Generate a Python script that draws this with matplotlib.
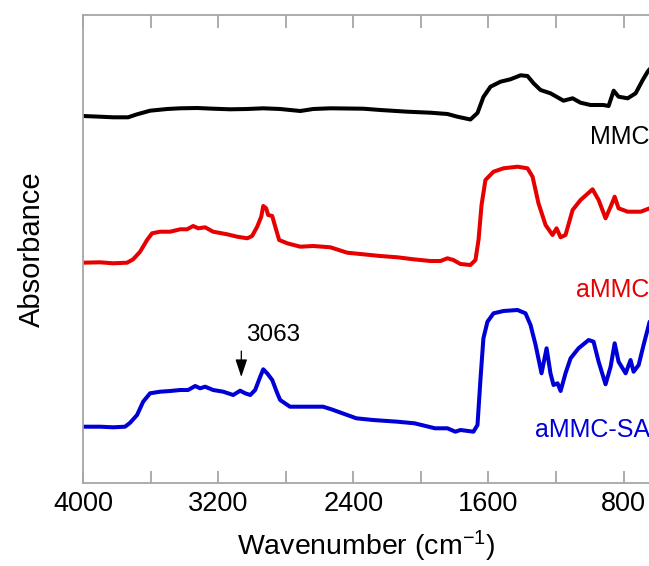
import matplotlib
matplotlib.use("Agg")
import matplotlib.pyplot as plt
from matplotlib.ticker import MultipleLocator, FuncFormatter

plt.rcParams['font.family'] = ['Liberation Sans', 'DejaVu Sans']
plt.rcParams['mathtext.fontset'] = 'custom'
plt.rcParams['mathtext.rm'] = 'Liberation Sans'
plt.rcParams['mathtext.default'] = 'regular'

# ---- data (wavenumber in cm-1, absorbance in arbitrary offset units) ----
mmc_wn = [4000, 3899, 3822, 3733, 3680, 3603, 3502, 3425, 3324, 3230, 3129, 3028,
          2933, 2833, 2714, 2637, 2536, 2341, 2240, 2080, 1944, 1843, 1784, 1707,
          1665, 1630, 1588, 1529, 1470, 1410, 1369, 1333, 1292, 1233, 1156, 1102,
          1055, 996, 919, 889, 859, 830, 776, 729, 687, 658, 640]
mmc_abs = [3.67, 3.663, 3.657, 3.657, 3.687, 3.723, 3.74, 3.747, 3.75, 3.743, 3.737, 3.74,
           3.747, 3.74, 3.72, 3.74, 3.747, 3.743, 3.73, 3.713, 3.703, 3.69, 3.663, 3.635,
           3.70, 3.86, 3.963, 4.013, 4.037, 4.077, 4.07, 3.997, 3.93, 3.897, 3.823, 3.847,
           3.803, 3.78, 3.78, 3.77, 3.923, 3.863, 3.847, 3.897, 4.03, 4.113, 4.15]

ammc_wn = [4000, 3899, 3822, 3739, 3703, 3662, 3621, 3591, 3544, 3484, 3425, 3384,
           3348, 3318, 3277, 3230, 3147, 3087, 3028, 2999, 2969, 2945, 2933, 2916,
           2904, 2880, 2862, 2839, 2791, 2714, 2637, 2536, 2436, 2341, 2240, 2139,
           2044, 1944, 1884, 1843, 1808, 1766, 1707, 1677, 1659, 1641, 1618, 1570,
           1511, 1428, 1369, 1339, 1304, 1262, 1221, 1197, 1173, 1144, 1102, 1055,
           984, 948, 907, 877, 853, 830, 776, 699, 646]
ammc_abs = [2.203, 2.207, 2.197, 2.203, 2.237, 2.313, 2.43, 2.497, 2.513, 2.513, 2.537, 2.537,
            2.57, 2.547, 2.557, 2.513, 2.487, 2.463, 2.447, 2.47, 2.563, 2.663, 2.77, 2.747,
            2.68, 2.67, 2.563, 2.43, 2.397, 2.363, 2.37, 2.357, 2.303, 2.287, 2.27, 2.257,
            2.237, 2.22, 2.22, 2.247, 2.23, 2.19, 2.18, 2.23, 2.43, 2.78, 3.03, 3.113,
            3.147, 3.163, 3.147, 3.063, 2.797, 2.58, 2.48, 2.547, 2.457, 2.48, 2.73, 2.83,
            2.937, 2.83, 2.647, 2.763, 2.863, 2.747, 2.713, 2.713, 2.747]

ammcsa_wn = [4000, 3899, 3822, 3751, 3721, 3680, 3644, 3603, 3544, 3484, 3425, 3378,
             3336, 3307, 3277, 3230, 3170, 3111, 3070, 3040, 3010, 2981, 2951, 2933,
             2910, 2880, 2850, 2833, 2775, 2579, 2530, 2382, 2284, 2139, 2038, 1916,
             1843, 1796, 1766, 1689, 1665, 1647, 1630, 1606, 1570, 1511, 1428, 1381,
             1351, 1321, 1286, 1256, 1233, 1215, 1191, 1173, 1144, 1114, 1067, 1007,
             978, 948, 907, 877, 853, 830, 788, 759, 741, 711, 682, 646]
ammcsa_abs = [0.563, 0.563, 0.557, 0.563, 0.603, 0.68, 0.813, 0.897, 0.913, 0.92, 0.93, 0.93,
              0.97, 0.947, 0.963, 0.93, 0.913, 0.88, 0.923, 0.897, 0.88, 0.93, 1.063, 1.137,
              1.097, 1.03, 0.897, 0.83, 0.763, 0.763, 0.737, 0.647, 0.63, 0.613, 0.597, 0.547,
              0.547, 0.513, 0.53, 0.513, 0.58, 1.047, 1.447, 1.613, 1.697, 1.72, 1.73, 1.697,
              1.58, 1.38, 1.097, 1.347, 1.097, 0.98, 0.997, 0.92, 1.097, 1.247, 1.347, 1.43,
              1.413, 1.213, 0.987, 1.163, 1.397, 1.213, 1.097, 1.23, 1.113, 1.18, 1.38, 1.613]

series_names = ['MMC', 'aMMC', 'aMMC-SA']
series_colors = ['#000000', '#e60000', '#0000d6']
label_y = [3.46, 1.93, 0.53]
peak_label = '3063'
peak_wn = 3063

x_major = 800
x_minor = 400

# ---- figure ----
fig = plt.figure(figsize=(6.49, 5.66), dpi=100)
ax = fig.add_axes([83/649, 83/566, 1 - 83/649 + 0.001, (483-15)/566])

data = [(mmc_wn, mmc_abs), (ammc_wn, ammc_abs), (ammcsa_wn, ammcsa_abs)]
for (wn, a), c in zip(data, series_colors):
    ax.plot(wn, a, color=c, lw=2.9, solid_joinstyle='round', solid_capstyle='round')

ax.set_xlim(4000, 646)
ax.set_ylim(0, 4.68)

for name, c, yy in zip(series_names, series_colors, label_y):
    ax.text(646, yy, name, color=c, fontsize=18, ha='right', va='center')

# arrow marking the 3063 band
ax.annotate('', xy=(peak_wn, 1.06), xytext=(peak_wn, 1.32),
            arrowprops=dict(arrowstyle='-|>,head_length=0.6,head_width=0.2',
                            color='black', lw=0.9,
                            mutation_scale=18, shrinkA=0, shrinkB=0))
ax.text(peak_wn - 30, 1.37, peak_label, fontsize=17.5, ha='left', va='bottom')

ax.xaxis.set_major_locator(MultipleLocator(x_major))
ax.xaxis.set_minor_locator(MultipleLocator(x_minor))
ax.xaxis.set_major_formatter(FuncFormatter(lambda v, p: f"{int(round(v))}"))
ax.set_yticks([])

for s in ['left', 'top', 'bottom']:
    ax.spines[s].set_color('#a6a6a6')
    ax.spines[s].set_linewidth(1.3)
ax.spines['right'].set_visible(False)

ax.tick_params(axis='x', which='both', direction='in', top=True, bottom=True,
               length=9, width=1.3, color='#a6a6a6', labelsize=19.5, pad=6)

ax.set_xlabel('Wavenumber (cm$^{-1}$)', fontsize=20.5, labelpad=8)
ax.set_ylabel('Absorbance', fontsize=21, labelpad=27)

fig.savefig('out.png', dpi=100)
